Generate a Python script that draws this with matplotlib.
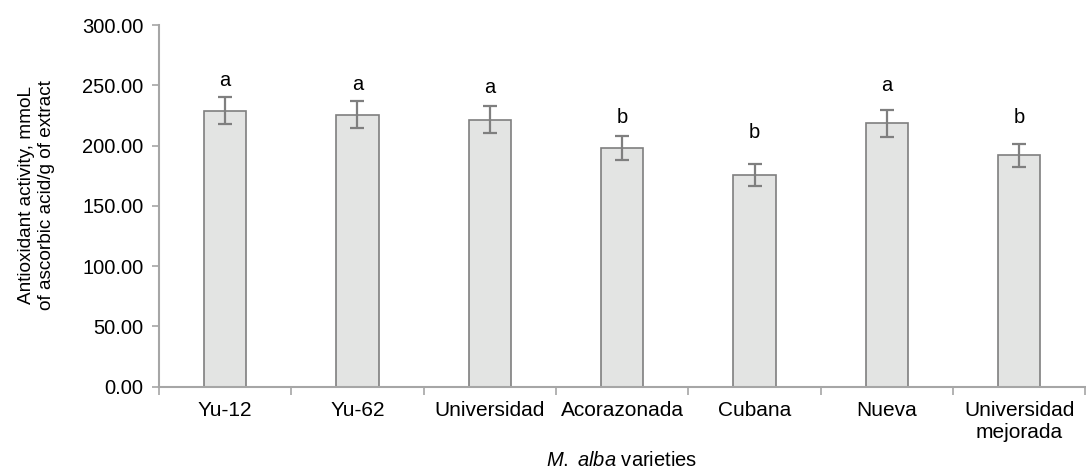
"""Antioxidant activity of M. alba varieties, bar chart with SD error bars."""

import matplotlib.pyplot as plt
import numpy as np

plt.rcParams["font.family"] = ["Liberation Sans", "DejaVu Sans"]
plt.rcParams["mathtext.fontset"] = "custom"
plt.rcParams["mathtext.rm"] = "Liberation Sans"
plt.rcParams["mathtext.it"] = "Liberation Sans:italic"

VARIETIES = ["Yu-12", "Yu-62", "Universidad", "Acorazonada", "Cubana", "Nueva",
             "Universidad\nmejorada"]
ACTIVITY = [229.0, 225.6, 221.5, 197.7, 175.6, 218.5, 192.1]
ERROR = [11.5, 11.4, 11.2, 10.0, 9.0, 11.0, 9.6]
GROUPS = ["a", "a", "a", "b", "b", "a", "b"]
GROUP_Y = [254.0, 251.0, 248.5, 223.7, 210.7, 250.0, 222.9]
Y_TICKS = [0, 50, 100, 150, 200, 250, 300]

AXIS_GREY = "#a6a6a6"
BAR_EDGE = "#7f7f7f"
BAR_FILL = "#e3e4e3"


def main():
    fig = plt.figure(figsize=(10.86, 4.74), dpi=100)
    ax = fig.add_axes([0.1464, 0.1842, 0.853, 0.763])

    x = np.arange(len(VARIETIES))
    ax.bar(x, ACTIVITY, width=0.32, color=BAR_FILL, edgecolor=BAR_EDGE,
           linewidth=1.2, zorder=2)
    ax.errorbar(x, ACTIVITY, yerr=ERROR, fmt="none", ecolor=BAR_EDGE,
                elinewidth=1.6, capsize=5, capthick=1.6, zorder=3)

    for xi, letter, ly in zip(x, GROUPS, GROUP_Y):
        ax.text(xi, ly, letter, ha="center", va="center", fontsize=14.5)

    ax.set_xlim(-0.5, len(VARIETIES) - 0.5)
    ax.set_ylim(0, 300)
    ax.set_yticks(Y_TICKS)
    ax.set_yticklabels([f"{v:.2f}" for v in Y_TICKS], fontsize=14.5)

    # category labels in the middle, tick marks on the boundaries
    ax.set_xticks(x)
    ax.set_xticklabels(VARIETIES, fontsize=15, linespacing=1.25)
    ax.tick_params(axis="x", length=0, pad=10)
    ax.set_xticks(np.arange(len(VARIETIES) + 1) - 0.5, minor=True)
    ax.tick_params(axis="x", which="minor", length=6, width=1.2,
                   color=AXIS_GREY, direction="out")
    ax.tick_params(axis="y", length=5, width=1.2, color=AXIS_GREY,
                   direction="out", pad=6)

    for side in ("top", "right"):
        ax.spines[side].set_visible(False)
    for side in ("left", "bottom"):
        ax.spines[side].set_color(AXIS_GREY)
        ax.spines[side].set_linewidth(1.5)

    ax.set_ylabel("Antioxidant activity, mmoL\nof ascorbic acid/g of extract",
                  fontsize=13.7, linespacing=1.25)
    ax.yaxis.set_label_coords(-0.112, 0.529)
    fig.text(622 / 1086, 1 - 461 / 474, r"$\it{M.}$ $\it{alba}$ varieties",
             fontsize=14.5, ha="center", va="center")

    fig.savefig("out.png", dpi=100)
    plt.close(fig)


if __name__ == "__main__":
    main()
